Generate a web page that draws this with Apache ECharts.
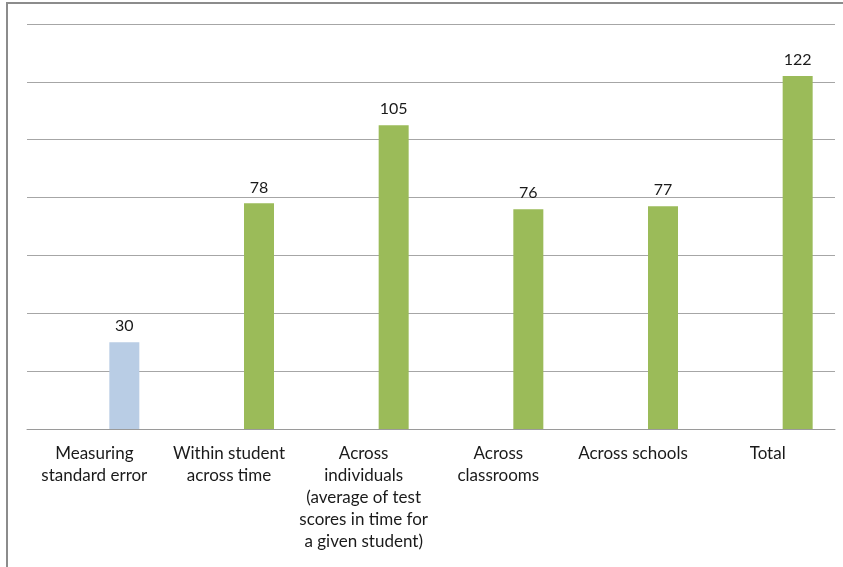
<!DOCTYPE html>
<html><head><meta charset="utf-8">
<script src="https://cdn.jsdelivr.net/npm/echarts@6/dist/echarts.min.js"></script>
<style>html,body{margin:0;padding:0;background:#fff}#c{width:843px;height:567px}</style>
</head><body><div id="c"></div>
<script>
const categories = ['Measuring\nstandard error','Within student\nacross time','Across\nindividuals\n(average of test\nscores in time for\na given student)','Across\nclassrooms','Across schools','Total'];
const values = [30, 78, 105, 76, 77, 122];
const barColors = ['#b9cde5','#9bbb59','#9bbb59','#9bbb59','#9bbb59','#9bbb59'];
const blank = [null, null, null, null, null, null];
const FONT = 'Lato';
const chart = echarts.init(document.getElementById('c'));
chart.setOption({
  animation: false,
  textStyle: {fontFamily: FONT},
  graphic: [{type:'rect', shape:{x:7,y:3,width:900,height:700}, style:{fill:'none', stroke:'#8c8c8c', lineWidth:2}}],
  grid: {left: 27, right: 8, top: 24, bottom: 138},
  xAxis: {type:'category', data: categories,
    axisLine:{lineStyle:{color:'#9a9a9a', width:1}}, axisTick:{show:false},
    axisLabel:{interval:0, color:'#1a1a1a', fontSize:17, lineHeight:22, margin:14, fontFamily: FONT}},
  yAxis: {type:'value', min:0, max:140, interval:20,
    axisLabel:{show:false}, axisLine:{show:false}, axisTick:{show:false},
    splitLine:{lineStyle:{color:'#a6a6a6', width:1}}},
  series: [
    {type:'bar', data: blank, barWidth:30, barGap:'0%'},
    {type:'bar', data: blank, barWidth:30, barGap:'0%'},
    {type:'bar', data: values.map((v,i)=>({value:v, itemStyle:{color:barColors[i]}})), barWidth:30, barGap:'0%',
     label:{show:true, position:'top', distance:8, color:'#1a1a1a', fontSize:16, fontFamily: FONT}}
  ]
});
</script></body></html>
